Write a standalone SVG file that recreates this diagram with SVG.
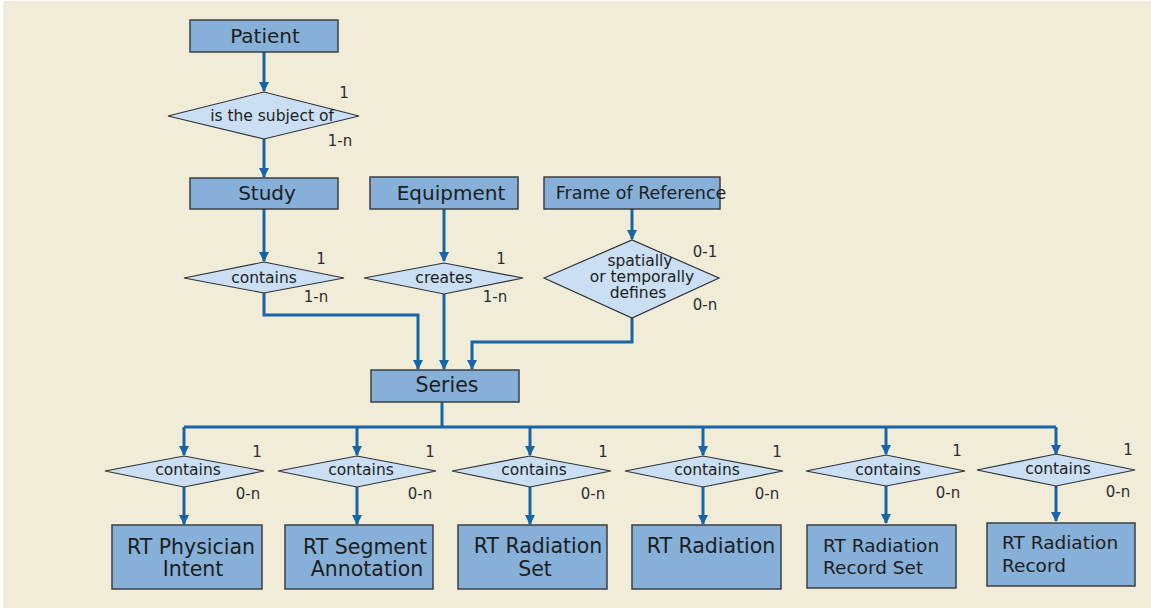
<svg xmlns="http://www.w3.org/2000/svg" width="1151" height="608" viewBox="0 0 1151 608">
  <style>
    .box { fill: #87b0d8; stroke: #3a3f44; stroke-width: 1.5; }
    .dia { fill: #cadff3; stroke: #2f3338; stroke-width: 1.2; }
    .lbl { font-family: "DejaVu Sans", Verdana, sans-serif; fill: #1b1e22; text-anchor: middle; }
    .big { font-size: 20px; }
    .ent { font-size: 20.5px; }
    .sm { font-size: 15.5px; }
    .card { font-family: "DejaVu Sans", Verdana, sans-serif; font-size: 15px; fill: #2a2d30; text-anchor: middle; }
    .wire { fill: none; stroke: #1565a8; stroke-width: 3; }
    .arr { fill: none; stroke: #1565a8; stroke-width: 3; marker-end: url(#head); }
  </style>
  <defs>
    <marker id="head" viewBox="0 0 10 10" refX="9" refY="5" markerWidth="3.4" markerHeight="4" orient="auto" markerUnits="strokeWidth">
      <path d="M0,0 L10,5 L0,10 z" fill="#1565a8"/>
    </marker>
  </defs>

  <rect width="1151" height="608" fill="#ffffff"/>
  <rect x="3" y="1" width="1148" height="607" fill="#f1ecd7"/>

  <!-- connectors -->
  <g id="connectors">
    <path class="arr" d="M264,52 V91"/>
    <path class="arr" d="M264,139 V177"/>
    <path class="arr" d="M264,209 V261"/>
    <path class="arr" d="M444,209 V261"/>
    <path class="arr" d="M632,209 V239"/>
    <path class="arr" d="M264,293 V315 H418 V369"/>
    <path class="arr" d="M444,294 V369"/>
    <path class="arr" d="M632,318 V342 H472 V369"/>
    <path class="wire" d="M442,402 V427"/>
    <path class="wire" d="M184,427 H1056"/>
    <path class="arr" d="M184,427 V455"/>
    <path class="arr" d="M357,427 V455"/>
    <path class="arr" d="M530,427 V455"/>
    <path class="arr" d="M703,427 V455"/>
    <path class="arr" d="M886,427 V454"/>
    <path class="arr" d="M1056,427 V454"/>
    <path class="arr" d="M184,487 V524"/>
    <path class="arr" d="M357,487 V524"/>
    <path class="arr" d="M530,487 V524"/>
    <path class="arr" d="M703,487 V524"/>
    <path class="arr" d="M886,486 V523"/>
    <path class="arr" d="M1056,486 V521"/>
  </g>

  <!-- entities -->
  <g id="patient">
    <rect class="box" x="190" y="20" width="148" height="32"/>
    <text class="lbl big" x="265" y="43">Patient</text>
  </g>
  <g id="study">
    <rect class="box" x="190" y="178" width="148" height="31"/>
    <text class="lbl big" x="267" y="200">Study</text>
  </g>
  <g id="equipment">
    <rect class="box" x="370" y="177" width="148" height="32"/>
    <text class="lbl big" x="451" y="200">Equipment</text>
  </g>
  <g id="frame-of-reference">
    <rect class="box" x="544" y="177" width="176" height="32"/>
    <text class="lbl" style="font-size:17.5px" x="641" y="199">Frame of Reference</text>
  </g>
  <g id="series">
    <rect class="box" x="371" y="370" width="148" height="32"/>
    <text class="lbl ent" x="447" y="392">Series</text>
  </g>

  <!-- relationships -->
  <g id="rel-subject">
    <polygon class="dia" points="168,116 264,92 359,116 264,139"/>
    <text class="lbl sm" x="272" y="121">is the subject of</text>
    <text class="card" x="344" y="98">1</text>
    <text class="card" x="340" y="146">1-n</text>
  </g>
  <g id="rel-study-contains">
    <polygon class="dia" points="184,278 264,262 344,278 264,293"/>
    <text class="lbl sm" x="264" y="283">contains</text>
    <text class="card" x="321" y="264">1</text>
    <text class="card" x="316" y="302">1-n</text>
  </g>
  <g id="rel-creates">
    <polygon class="dia" points="364,278 444,263 523,278 444,294"/>
    <text class="lbl sm" x="444" y="283">creates</text>
    <text class="card" x="501" y="264">1</text>
    <text class="card" x="495" y="302">1-n</text>
  </g>
  <g id="rel-defines">
    <polygon class="dia" points="544,278 632,240 719,278 632,318"/>
    <text class="lbl sm" x="640" y="266">spatially</text>
    <text class="lbl sm" x="642" y="282">or temporally</text>
    <text class="lbl sm" x="638" y="298">defines</text>
    <text class="card" x="705" y="257">0-1</text>
    <text class="card" x="705" y="310">0-n</text>
  </g>

  <g id="rel-contains-1">
    <polygon class="dia" points="105,471 184,456 264,471 184,487"/>
    <text class="lbl sm" x="188" y="475">contains</text>
    <text class="card" x="257" y="457">1</text>
    <text class="card" x="248" y="499">0-n</text>
  </g>
  <g id="rel-contains-2">
    <polygon class="dia" points="278,471 357,456 436,471 357,487"/>
    <text class="lbl sm" x="361" y="475">contains</text>
    <text class="card" x="430" y="457">1</text>
    <text class="card" x="420" y="499">0-n</text>
  </g>
  <g id="rel-contains-3">
    <polygon class="dia" points="452,471 530,456 611,471 530,487"/>
    <text class="lbl sm" x="534" y="475">contains</text>
    <text class="card" x="603" y="457">1</text>
    <text class="card" x="593" y="499">0-n</text>
  </g>
  <g id="rel-contains-4">
    <polygon class="dia" points="625,471 703,456 783,471 703,487"/>
    <text class="lbl sm" x="707" y="475">contains</text>
    <text class="card" x="777" y="457">1</text>
    <text class="card" x="767" y="499">0-n</text>
  </g>
  <g id="rel-contains-5">
    <polygon class="dia" points="806,471 886,455 965,471 886,486"/>
    <text class="lbl sm" x="888" y="475">contains</text>
    <text class="card" x="957" y="456">1</text>
    <text class="card" x="948" y="498">0-n</text>
  </g>
  <g id="rel-contains-6">
    <polygon class="dia" points="977,470 1056,454 1135,470 1056,486"/>
    <text class="lbl sm" x="1058" y="474">contains</text>
    <text class="card" x="1128" y="455">1</text>
    <text class="card" x="1118" y="497">0-n</text>
  </g>

  <!-- RT series types -->
  <g id="rt-physician-intent">
    <rect class="box" x="112" y="525" width="150" height="64"/>
    <text class="lbl ent" x="191" y="554">RT Physician</text>
    <text class="lbl ent" x="193" y="576">Intent</text>
  </g>
  <g id="rt-segment-annotation">
    <rect class="box" x="285" y="525" width="148" height="64"/>
    <text class="lbl ent" x="365" y="554">RT Segment</text>
    <text class="lbl ent" x="367" y="576">Annotation</text>
  </g>
  <g id="rt-radiation-set">
    <rect class="box" x="458" y="525" width="149" height="64"/>
    <text class="lbl ent" x="538" y="553">RT Radiation</text>
    <text class="lbl ent" x="535" y="576">Set</text>
  </g>
  <g id="rt-radiation">
    <rect class="box" x="632" y="525" width="149" height="64"/>
    <text class="lbl ent" x="711" y="553">RT Radiation</text>
  </g>
  <g id="rt-radiation-record-set">
    <rect class="box" x="807" y="525" width="149" height="63"/>
    <text class="lbl" style="font-size:18.5px;text-anchor:start" x="823" y="552">RT Radiation</text>
    <text class="lbl" style="font-size:18.5px;text-anchor:start" x="823" y="574">Record Set</text>
  </g>
  <g id="rt-radiation-record">
    <rect class="box" x="987" y="523" width="148" height="63"/>
    <text class="lbl" style="font-size:18.5px;text-anchor:start" x="1002" y="549">RT Radiation</text>
    <text class="lbl" style="font-size:18.5px;text-anchor:start" x="1002" y="572">Record</text>
  </g>
</svg>
